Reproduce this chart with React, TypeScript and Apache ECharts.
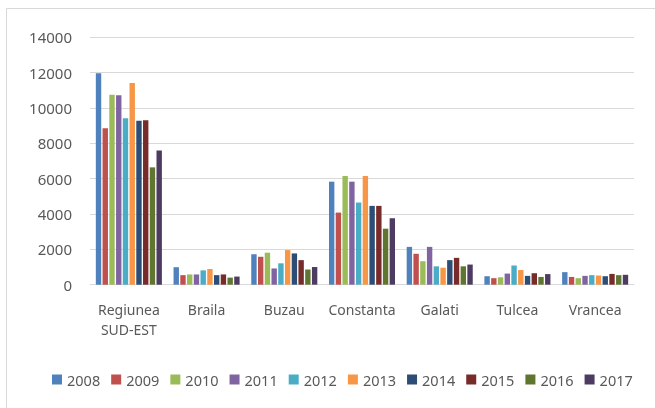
import React, { useEffect, useRef } from "react";
import * as echarts from "echarts";

const categories = ["Regiunea\nSUD-EST", "Braila", "Buzau", "Constanta", "Galati", "Tulcea", "Vrancea"];
const years = ["2008", "2009", "2010", "2011", "2012", "2013", "2014", "2015", "2016", "2017"];
const colors = ["#4F81BD", "#C0504D", "#9BBB59", "#8064A2", "#4BACC6", "#F79646", "#2C4D75", "#772C2A", "#5F7530", "#4D3B62"];

// values per year, in category order
const v2008 = [11960, 990, 1730, 5830, 2140, 480, 710];
const v2009 = [8850, 540, 1580, 4080, 1750, 370, 440];
const v2010 = [10750, 580, 1810, 6150, 1330, 420, 370];
const v2011 = [10720, 580, 920, 5830, 2140, 630, 500];
const v2012 = [9420, 810, 1210, 4650, 1040, 1080, 540];
const v2013 = [11410, 890, 1960, 6150, 960, 830, 520];
const v2014 = [9280, 540, 1770, 4460, 1390, 500, 480];
const v2015 = [9300, 580, 1390, 4460, 1520, 650, 610];
const v2016 = [6640, 400, 860, 3170, 1040, 440, 540];
const v2017 = [7600, 460, 1000, 3760, 1140, 600, 560];

const seriesValues = [v2008, v2009, v2010, v2011, v2012, v2013, v2014, v2015, v2016, v2017];

const yTicks = { min: 0, max: 14000, interval: 2000 };

export default function App() {
  const ref = useRef<HTMLDivElement>(null);
  useEffect(() => {
    if (!ref.current) return;
    const chart = echarts.init(ref.current, undefined, { renderer: "svg" });
    const font = "'Noto Sans', sans-serif";
    chart.setOption({
      animation: false,
      color: colors,
      graphic: [
        {
          type: "rect",
          shape: { x: 6.5, y: 8.5, width: 700, height: 500 },
          style: { fill: "none", stroke: "#d9d9d9", lineWidth: 1 },
          silent: true,
        },
      ],
      grid: { left: 90, right: 21, top: 37.3, bottom: 123.3 },
      legend: {
        left: 47,
        top: 367,
        itemWidth: 10,
        itemHeight: 10,
        itemGap: 11,
        icon: "rect",
        textStyle: { color: "#595959", fontSize: 14.5, fontFamily: font },
        data: years,
      },
      xAxis: {
        type: "category",
        data: categories,
        axisLine: { lineStyle: { color: "#d9d9d9", width: 1 } },
        axisTick: { show: false },
        axisLabel: {
          color: "#595959",
          fontSize: 14,
          fontFamily: font,
          margin: 15,
          lineHeight: 20,
          interval: 0,
        },
      },
      yAxis: {
        type: "value",
        min: yTicks.min,
        max: yTicks.max,
        interval: yTicks.interval,
        axisLine: { show: false },
        axisTick: { show: false },
        splitLine: { lineStyle: { color: "#d9d9d9", width: 1 } },
        axisLabel: {
          color: "#595959",
          fontSize: 15,
          fontFamily: font,
          margin: 18,
          formatter: (v: number) => String(v),
        },
      },
      series: years.map((y, i) => ({
        name: y,
        type: "bar",
        data: seriesValues[i],
        barGap: "25%",
        barCategoryGap: "15%",
      })),
    });
    return () => chart.dispose();
  }, []);
  return <div ref={ref} style={{ position: "fixed", left: 0, top: 0, width: 655, height: 408 }} />;
}
